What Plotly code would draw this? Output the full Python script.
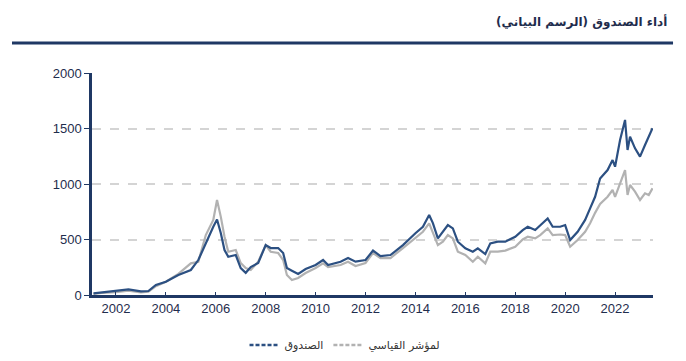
import plotly.graph_objects as go

# decimal years
dates = [2001.1, 2001.5, 2002.0, 2002.5, 2003.0, 2003.3, 2003.6, 2004.0, 2004.5, 2005.0,
         2005.3, 2005.6, 2005.9, 2006.05, 2006.2, 2006.35, 2006.5, 2006.8, 2007.0, 2007.2,
         2007.4, 2007.7, 2008.0, 2008.2, 2008.5, 2008.7, 2008.85, 2009.05, 2009.3, 2009.6,
         2010.0, 2010.3, 2010.5, 2011.0, 2011.3, 2011.6, 2012.0, 2012.3, 2012.6, 2013.0,
         2013.5, 2014.0, 2014.3, 2014.55, 2014.7, 2014.9, 2015.1, 2015.3, 2015.5, 2015.7,
         2016.0, 2016.3, 2016.5, 2016.8, 2017.0, 2017.3, 2017.6, 2018.0, 2018.3, 2018.5,
         2018.8, 2019.0, 2019.3, 2019.5, 2019.8, 2020.0, 2020.2, 2020.5, 2020.8, 2021.0,
         2021.2, 2021.4, 2021.7, 2021.9, 2022.0, 2022.2, 2022.4, 2022.5, 2022.6, 2022.8,
         2023.0, 2023.2, 2023.35, 2023.5]

fund = [15, 27, 36, 51, 33, 36, 90, 120, 180, 225,
        315, 468, 615, 680, 558, 405, 345, 360, 243, 200,
        252, 288, 450, 423, 423, 378, 243, 219, 189, 234,
        270, 315, 270, 300, 333, 300, 315, 400, 351, 360,
        450, 556, 615, 720, 648, 510, 570, 630, 600, 480,
        420, 390, 420, 369, 465, 480, 480, 525, 585, 615,
        585, 630, 690, 615, 615, 630, 495, 570, 676, 780,
        885, 1050, 1126, 1216, 1156, 1397, 1577, 1306, 1426, 1321,
        1246, 1351, 1426, 1502]

bench = [10, 20, 25, 38, 23, 30, 80, 120, 190, 285,
         300, 540, 676, 856, 706, 525, 390, 405, 288, 243,
         225, 300, 450, 390, 378, 315, 180, 135, 153, 198,
         243, 285, 252, 270, 300, 261, 288, 378, 333, 333,
         423, 513, 570, 646, 558, 450, 480, 540, 510, 390,
         360, 300, 345, 285, 390, 390, 400, 435, 500, 525,
         510, 540, 600, 540, 545, 540, 435, 495, 570, 646,
         740, 820, 885, 946, 885, 1006, 1126, 901, 991, 931,
         856, 916, 901, 961]

x_ticks = [2002, 2004, 2006, 2008, 2010, 2012, 2014, 2016, 2018, 2020, 2022]
y_ticks = [0, 500, 1000, 1500, 2000]

title_text = "أداء الصندوق (الرسم البياني)"
fund_name = "الصندوق"
bench_name = "لمؤشر القياسي"

NAVY = "#1f3864"
FUND_C = "#2c5082"
BENCH_C = "#b2b2b2"
TEXT_C = "#1f2d4d"

fig = go.Figure()
fig.add_trace(go.Scatter(x=dates, y=bench, mode="lines", showlegend=False,
                         line=dict(color=BENCH_C, width=2.2)))
fig.add_trace(go.Scatter(x=dates, y=fund, mode="lines", showlegend=False,
                         line=dict(color=FUND_C, width=2.2)))
# legend entries
fig.add_trace(go.Scatter(x=[None], y=[None], mode="lines", name=fund_name,
                         line=dict(color=FUND_C, width=2.5, dash="4px,2px")))
fig.add_trace(go.Scatter(x=[None], y=[None], mode="lines", name=bench_name,
                         line=dict(color=BENCH_C, width=2.5, dash="4px,2px")))

fig.update_layout(
    width=686, height=361,
    margin=dict(l=92, r=33, t=73, b=66, autoexpand=False),
    paper_bgcolor="white", plot_bgcolor="white",
    font=dict(family="Liberation Sans, Arial, DejaVu Sans", size=13, color=TEXT_C),
    showlegend=True,
    legend=dict(orientation="h", x=0.451, xanchor="center", y=-0.225, yanchor="middle",
                font=dict(size=11, color="#333333", family="DejaVu Sans"),
                itemwidth=30, tracegroupgap=0),
    annotations=[dict(text="<b>" + title_text + "</b>", xref="paper", yref="paper",
                      x=1.0285, y=1.23, xanchor="right", yanchor="middle", showarrow=False,
                      font=dict(family="DejaVu Sans", size=12, color=TEXT_C))],
    shapes=[dict(type="line", xref="paper", yref="paper", x0=-0.1426, x1=1.0357,
                 y0=1.135, y1=1.135, line=dict(color=NAVY, width=3))],
)
fig.update_xaxes(range=[2001.04, 2023.52], tickvals=x_ticks, showgrid=False,
                 showline=True, linecolor=NAVY, linewidth=2.5, ticks="inside",
                 ticklen=3, tickcolor=NAVY, zeroline=False)
fig.update_yaxes(range=[0, 2000], tickvals=y_ticks, showgrid=True, gridcolor="#d4d4d4",
                 gridwidth=2, griddash="dash", showline=True, linecolor=NAVY,
                 linewidth=2.5, ticks="outside", ticklen=5, tickcolor=NAVY,
                 zeroline=False)

fig.write_html("out.html", config={"displayModeBar": False},
               post_script="document.body.style.margin='0';document.body.style.overflow='hidden';")
